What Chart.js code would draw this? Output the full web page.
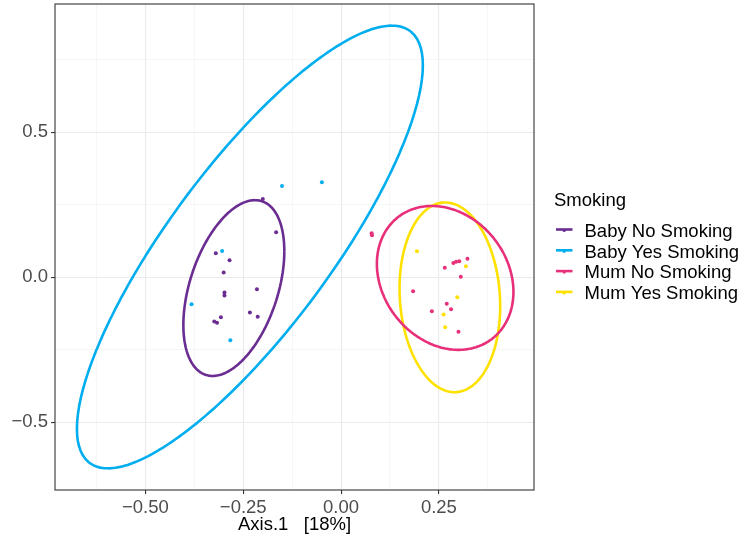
<!DOCTYPE html>
<html>
<head>
<meta charset="utf-8">
<script src="https://cdn.jsdelivr.net/npm/chart.js@4.4.0/dist/chart.umd.min.js"></script>
<style>
body{margin:0;background:#fff;}
#wrap{width:746px;height:542px;position:relative;}
</style>
</head>
<body>
<div id="wrap"><canvas id="pcoa"></canvas></div>
<script>
// groups + colours
const groups = ['Baby No Smoking','Baby Yes Smoking','Mum No Smoking','Mum Yes Smoking'];
const groupColors = ['#6a2d91','#00aeef','#e8307a','#ffe100'];

// ordination scores
const babyNoX = [-0.200,-0.166,-0.320,-0.285,-0.300,-0.298,-0.298,-0.215,-0.233,-0.213,-0.307,-0.324,-0.317];
const babyNoY = [0.270,0.155,0.083,0.059,0.017,-0.052,-0.063,-0.041,-0.121,-0.136,-0.138,-0.152,-0.157];
const babyYesX = [-0.151,-0.049,-0.304,-0.382,-0.283];
const babyYesY = [0.315,0.328,0.091,-0.093,-0.217];
const mumNoX = [0.078,0.079,0.265,0.287,0.294,0.302,0.323,0.306,0.184,0.270,0.281,0.232,0.300];
const mumNoY = [0.152,0.145,0.033,0.049,0.054,0.055,0.064,0.002,-0.048,-0.091,-0.110,-0.117,-0.188];
const mumYesX = [0.194,0.319,0.297,0.262,0.266];
const mumYesY = [0.090,0.038,-0.069,-0.128,-0.172];

// 95% ellipses: centre, half-width, half-height, x-offset of top point / half-width
const ellipseCX = [-0.274,-0.233,0.266,0.278];
const ellipseCY = [-0.037,0.1045,-0.002,-0.069];
const ellipseRX = [0.129,0.442,0.1745,0.1286];
const ellipseRY = [0.303,0.763,0.248,0.327];
const ellipseTilt = [0.42,0.821,-0.195,-0.093];

const xTicks = [-0.625,-0.5,-0.375,-0.25,-0.125,0,0.125,0.25,0.375];
const xLabels = {'-0.5':'\u22120.50','-0.25':'\u22120.25','0':'0.00','0.25':'0.25'};
const yTicks = [-0.5,-0.25,0,0.25,0.5,0.75];
const yLabels = {'-0.5':'\u22120.5','0':'0.0','0.5':'0.5'};

const xTitle = 'Axis.1   [18%]';
const yTitle = 'Axis.2   [12%]';
const legendTitle = 'Smoking';

const FONT = '"Liberation Sans", Arial, sans-serif';

function pts(xs, ys){ return xs.map((x,i)=>({x:x, y:ys[i]})); }
function ellipse(i){
  let out = [];
  let k = ellipseTilt[i], s = Math.sqrt(1-k*k);
  for(let j=0;j<=120;j++){
    let t = j/120*2*Math.PI;
    out.push({x: ellipseCX[i] + ellipseRX[i]*Math.cos(t),
              y: ellipseCY[i] + ellipseRY[i]*(Math.cos(t)*k + Math.sin(t)*s)});
  }
  return out;
}

const pointSets = [pts(babyNoX,babyNoY), pts(babyYesX,babyYesY), pts(mumNoX,mumNoY), pts(mumYesX,mumYesY)];
let datasets = [];
groups.forEach((g,i)=>{
  datasets.push({label:g, data:pointSets[i], pointRadius:2, pointBorderWidth:0,
    backgroundColor:groupColors[i], borderColor:groupColors[i], showLine:false, order:2});
});
groups.forEach((g,i)=>{
  // tiny tension keeps chart.js off its fast path (which squashes same-x points)
  datasets.push({label:g+' ellipse', data:ellipse(i), showLine:true, pointRadius:0,
    borderColor:groupColors[i], borderWidth:2.6, fill:false, tension:0.0001, order:1});
});

const isMajorX = v => xLabels[String(v)] !== undefined;
const isMajorY = v => yLabels[String(v)] !== undefined;

const decor = {
  id:'decor',
  afterDraw(chart){
    const {ctx, chartArea:a} = chart;
    ctx.save();
    ctx.strokeStyle = '#333333';
    ctx.lineWidth = 1.1;
    ctx.strokeRect(a.left, a.top, a.right-a.left, a.bottom-a.top);

    ctx.fillStyle = '#000';
    ctx.font = '18.5px ' + FONT;
    ctx.textAlign = 'center';
    ctx.textBaseline = 'alphabetic';
    ctx.fillText(xTitle, (a.left+a.right)/2, 530);

    // y title sits almost entirely off the left edge, as in the original
    ctx.save();
    ctx.translate(-7, (a.top+a.bottom)/2);
    ctx.rotate(-Math.PI/2);
    ctx.fillText(yTitle, 0, 0);
    ctx.restore();

    // legend
    ctx.textAlign = 'left';
    ctx.fillText(legendTitle, 554, 206);
    groups.forEach((g,i)=>{
      const y = 229.5 + i*20.8;
      ctx.strokeStyle = groupColors[i];
      ctx.lineWidth = 2.6;
      ctx.beginPath(); ctx.moveTo(556,y); ctx.lineTo(572.5,y); ctx.stroke();
      ctx.fillStyle = groupColors[i];
      ctx.beginPath(); ctx.arc(564.2, y+1, 1.6, 0, 2*Math.PI); ctx.fill();
      ctx.fillStyle = '#000';
      ctx.fillText(g, 584.5, y+7.3);
    });
    ctx.restore();
  }
};

new Chart('pcoa', {
  type:'scatter',
  data:{datasets:datasets},
  options:{
    responsive:true,
    maintainAspectRatio:false,
    animation:false,
    events:[],
    layout:{padding:{left:0, top:4, right:212, bottom:0}},
    plugins:{legend:{display:false}, tooltip:{enabled:false}},
    scales:{
      x:{
        type:'linear', min:-0.731, max:0.493,
        afterBuildTicks: s => { s.ticks = xTicks.map(v=>({value:v})); },
        afterFit: s => { s.height = 52; s.paddingLeft = 0; s.paddingRight = 0; s.paddingTop = 0; s.paddingBottom = 0; },
        border:{display:false},
        grid:{
          color: c => isMajorX(c.tick.value) ? '#ebebeb' : '#f2f2f2',
          lineWidth: c => isMajorX(c.tick.value) ? 1.1 : 0.7,
          tickColor: c => isMajorX(c.tick.value) ? '#333333' : 'rgba(0,0,0,0)',
          tickWidth:1.1, tickLength:4, drawTicks:true
        },
        ticks:{autoSkip:false, maxRotation:0, padding:3, color:'#4d4d4d',
          font:{family:FONT, size:18.5},
          callback: v => xLabels[String(v)] || ''}
      },
      y:{
        type:'linear', min:-0.733, max:0.942,
        afterBuildTicks: s => { s.ticks = yTicks.map(v=>({value:v})); },
        afterFit: s => { s.width = 55; s.paddingTop = 0; s.paddingBottom = 0; s.paddingLeft = 0; s.paddingRight = 0; },
        border:{display:false},
        grid:{
          color: c => isMajorY(c.tick.value) ? '#ebebeb' : '#f2f2f2',
          lineWidth: c => isMajorY(c.tick.value) ? 1.1 : 0.7,
          tickColor: c => isMajorY(c.tick.value) ? '#333333' : 'rgba(0,0,0,0)',
          tickWidth:1.1, tickLength:4, drawTicks:true
        },
        ticks:{autoSkip:false, padding:3, color:'#4d4d4d',
          font:{family:FONT, size:18.5},
          callback: v => yLabels[String(v)] || ''}
      }
    }
  },
  plugins:[decor]
});
</script>
</body>
</html>
